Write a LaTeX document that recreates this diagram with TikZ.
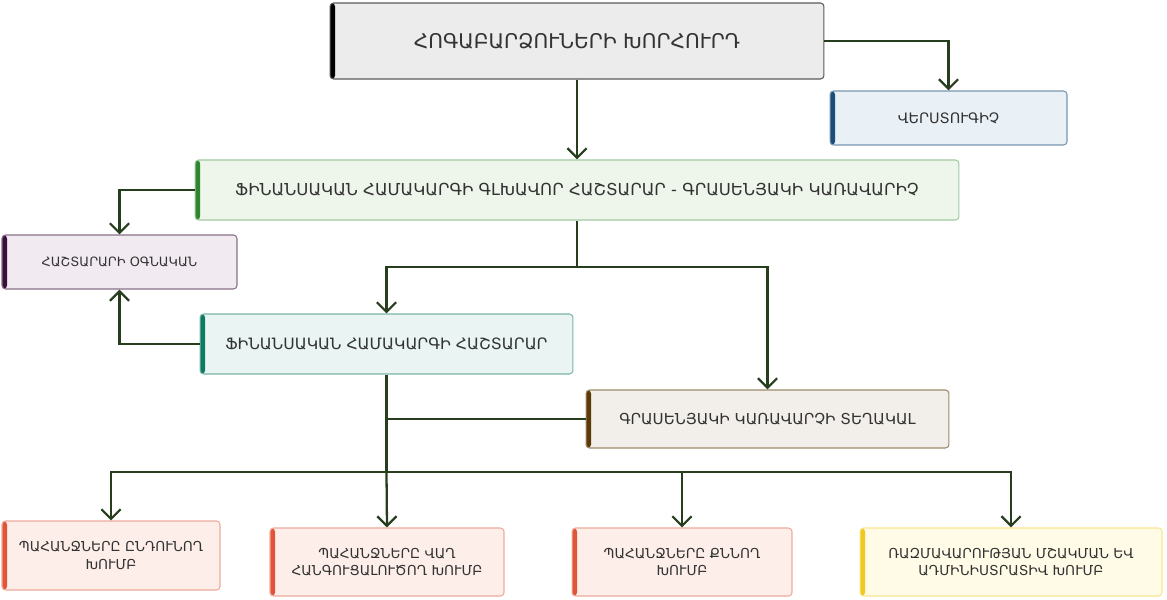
\documentclass[tikz,border=0pt]{standalone}
\usepackage{fontspec}
\setmainfont{DejaVu Sans}
\usetikzlibrary{arrows.meta}

\definecolor{linkcol}{RGB}{38,62,30}
\definecolor{boardfill}{RGB}{236,236,236}
\definecolor{auditfill}{RGB}{234,241,246}
\definecolor{auditbar}{RGB}{27,78,122}
\definecolor{chieffill}{RGB}{238,246,236}
\definecolor{chiefbar}{RGB}{46,135,46}
\definecolor{assistfill}{RGB}{241,234,241}
\definecolor{assistbar}{RGB}{58,16,58}
\definecolor{ombfill}{RGB}{234,245,243}
\definecolor{ombbar}{RGB}{14,122,98}
\definecolor{deputyfill}{RGB}{242,239,234}
\definecolor{deputybar}{RGB}{92,58,8}
\definecolor{groupfill}{RGB}{253,238,233}
\definecolor{groupbar}{RGB}{224,85,58}
\definecolor{stratfill}{RGB}{255,251,230}
\definecolor{stratbar}{RGB}{242,200,30}

\tikzset{
  card/.style={draw, rounded corners=2pt, line width=0.6pt, align=center,
    inner sep=2pt, text=black!80, font=\fontsize{7.8}{10}\selectfont},
  barcol/.style={path picture={\fill[#1] (path picture bounding box.north west)
    rectangle ([xshift=0.1cm]path picture bounding box.south west);}},
  link/.style={draw=linkcol, line width=1.3pt, -{Straight Barb[length=5.5pt,width=11pt]}},
  plain/.style={draw=linkcol, line width=1.3pt}
}

\begin{document}
\begin{tikzpicture}[x=0.02cm, y=-0.02cm]
\useasboundingbox (0,0) rectangle (1167,599);

% Nodes
\node[card, fill=boardfill, draw=black!65, barcol=black, minimum width=9.88cm, minimum height=1.52cm,
  font=\fontsize{11.5}{14}\selectfont] (board) at (577,41) {ՀՈԳԱԲԱՐՁՈՒՆԵՐԻ ԽՈՐՀՈՒՐԴ};
\node[card, fill=auditfill, draw=auditbar!60, barcol=auditbar, minimum width=4.74cm, minimum height=1.08cm,
  font=\fontsize{8.2}{10}\selectfont] (audit) at (948.5,118) {ՎԵՐՍՏՈՒԳԻՉ};
\node[card, fill=chieffill, draw=chiefbar!45, barcol=chiefbar, minimum width=15.28cm, minimum height=1.2cm,
  font=\fontsize{9.4}{11}\selectfont] (chief) at (577,190)
  {ՖԻՆԱՆՍԱԿԱՆ ՀԱՄԱԿԱՐԳԻ ԳԼԽԱՎՈՐ ՀԱՇՏԱՐԱՐ - ԳՐԱՍԵՆՅԱԿԻ ԿԱՌԱՎԱՐԻՉ};
\node[card, fill=assistfill, draw=assistbar!60, barcol=assistbar, minimum width=4.7cm, minimum height=1.08cm,
  font=\fontsize{7.3}{10}\selectfont] (assist) at (119.5,262) {ՀԱՇՏԱՐԱՐԻ ՕԳՆԱԿԱՆ};
\node[card, fill=ombfill, draw=ombbar!55, barcol=ombbar, minimum width=7.46cm, minimum height=1.2cm,
  font=\fontsize{8.9}{11}\selectfont] (omb) at (386.5,344) {ՖԻՆԱՆՍԱԿԱՆ ՀԱՄԱԿԱՐԳԻ ՀԱՇՏԱՐԱՐ};
\node[card, fill=deputyfill, draw=deputybar!60, barcol=deputybar, minimum width=7.26cm, minimum height=1.16cm,
  font=\fontsize{8.6}{11}\selectfont] (deputy) at (767.5,419) {ԳՐԱՍԵՆՅԱԿԻ ԿԱՌԱՎԱՐՉԻ ՏԵՂԱԿԱԼ};
\node[card, fill=groupfill, draw=groupbar!50, barcol=groupbar, minimum width=4.36cm, minimum height=1.38cm]
  (recv) at (111,555.5) {ՊԱՀԱՆՋՆԵՐԸ ԸՆԴՈՒՆՈՂ\\ԽՈՒՄԲ};
\node[card, fill=groupfill, draw=groupbar!50, barcol=groupbar, minimum width=4.68cm, minimum height=1.36cm]
  (early) at (387,562) {ՊԱՀԱՆՋՆԵՐԸ ՎԱՂ\\ՀԱՆԳՈՒՑԱԼՈՒԾՈՂ ԽՈՒՄԲ};
\node[card, fill=groupfill, draw=groupbar!50, barcol=groupbar, minimum width=4.4cm, minimum height=1.36cm]
  (exam) at (682,562) {ՊԱՀԱՆՋՆԵՐԸ ՔՆՆՈՂ\\ԽՈՒՄԲ};
\node[card, fill=stratfill, draw=stratbar!50, barcol=stratbar, minimum width=6.04cm, minimum height=1.36cm]
  (strat) at (1011,562) {ՌԱԶՄԱՎԱՐՈՒԹՅԱՆ ՄՇԱԿՄԱՆ ԵՎ\\ԱԴՄԻՆԻՍՏՐԱՏԻՎ ԽՈՒՄԲ};

\coordinate (s1) at (577,267);
\coordinate (s2) at (386.5,472);

\draw [link] (board.east) -| (audit.north);
\draw [link] (board.south) -- (chief.north);
\draw [link] (chief.west) -| (assist.north);
\draw [link] (omb.west) -| (assist.south);
\draw [plain] (chief.south) -- (s1);
\draw [link] (s1) -| (omb.north);
\draw [link] (s1) -| (deputy.north);
\draw [plain] (omb.south) -- (s2);
\draw [plain] (omb.south |- deputy.west) -- (deputy.west);
\draw [link] (s2) -| (recv.north);
\draw [link] (s2) -- (early.north);
\draw [link] (s2) -| (exam.north);
\draw [link] (s2) -| (strat.north);

\end{tikzpicture}
\end{document}
